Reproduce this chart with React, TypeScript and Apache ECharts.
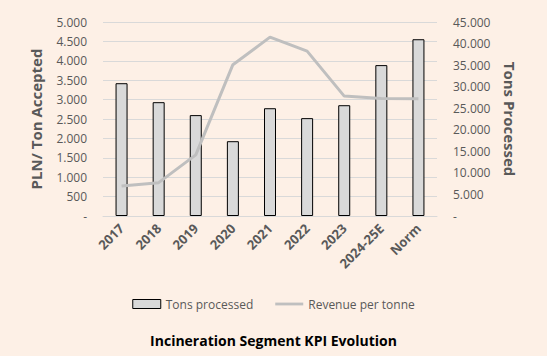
import React, { useEffect, useRef } from "react";
import * as echarts from "echarts";

const categories = ["2017", "2018", "2019", "2020", "2021", "2022", "2023", "2024-25E", "Norm"];
const tonsProcessed = [30800, 26400, 23400, 17350, 25000, 22700, 25700, 35000, 41000];
const revenuePerTonne = [775, 860, 1575, 3900, 4610, 4250, 3090, 3030, 3020];

const fmt = (v: number) => (v === 0 ? "-" : v.toLocaleString("de-DE"));

export default function App() {
  const ref = useRef<HTMLDivElement>(null);
  useEffect(() => {
    if (!ref.current) return;
    const chart = echarts.init(ref.current, null, { renderer: "svg" });
    const font = "'Open Sans', 'Noto Sans', sans-serif";
    chart.setOption({
      animation: false,
      backgroundColor: "#FDF0E6",
      textStyle: { fontFamily: font },
      title: {
        text: "Incineration Segment KPI Evolution",
        left: "center",
        top: 328,
        textStyle: { fontSize: 14, fontWeight: "bold", color: "#000000", fontFamily: font },
      },
      legend: {
        top: 293,
        left: "center",
        itemGap: 22,
        itemWidth: 28,
        itemHeight: 9,
        textStyle: { fontSize: 12, color: "#595959", fontFamily: font },
        data: [
          {
            name: "Tons processed",
            icon: "rect",
            itemStyle: { color: "#D9D9D9", borderColor: "#000000", borderWidth: 1 },
          },
          {
            name: "Revenue per tonne",
            icon: "path://M0,0 L30,0 L30,3 L0,3 Z",
            itemStyle: { color: "#BFBFBF", borderWidth: 0 },
            lineStyle: { width: 0 },
          },
        ],
      },
      grid: { left: 103, right: 110, top: 22, bottom: 140 },
      xAxis: {
        type: "category",
        data: categories,
        axisLine: { lineStyle: { color: "#D9D9D9" } },
        axisTick: { show: false },
        axisLabel: {
          rotate: 45,
          color: "#595959",
          fontWeight: "bold",
          fontSize: 13,
          margin: 10,
          interval: 0,
        },
      },
      yAxis: [
        {
          type: "value",
          min: 0,
          max: 5000,
          interval: 500,
          name: "PLN/ Ton Accepted",
          nameLocation: "middle",
          nameGap: 60,
          nameRotate: 90,
          nameTextStyle: { fontSize: 15, fontWeight: "bold", color: "#595959" },
          axisLine: { show: false },
          axisTick: { show: false },
          axisLabel: { color: "#595959", fontSize: 12, formatter: fmt, margin: 16 },
          splitLine: { lineStyle: { color: "#D9D9D9" } },
        },
        {
          type: "value",
          min: 0,
          max: 45000,
          interval: 5000,
          name: "Tons Processed",
          nameLocation: "middle",
          nameGap: 65,
          nameRotate: -90,
          nameTextStyle: { fontSize: 15, fontWeight: "bold", color: "#595959" },
          axisLine: { show: false },
          axisTick: { show: false },
          axisLabel: { color: "#595959", fontSize: 12, formatter: fmt, margin: 16 },
          splitLine: { show: false },
        },
      ],
      series: [
        {
          name: "Tons processed",
          type: "bar",
          yAxisIndex: 1,
          data: tonsProcessed,
          barWidth: 12,
          itemStyle: { color: "#D9D9D9", borderColor: "#000000", borderWidth: 1 },
        },
        {
          name: "Revenue per tonne",
          type: "line",
          yAxisIndex: 0,
          data: revenuePerTonne,
          symbol: "none",
          lineStyle: { color: "#BFBFBF", width: 3 },
          itemStyle: { color: "#BFBFBF" },
        },
      ],
    });
    return () => chart.dispose();
  }, []);
  return <div ref={ref} style={{ width: 547, height: 356, position: "absolute", left: 0, top: 0 }} />;
}
